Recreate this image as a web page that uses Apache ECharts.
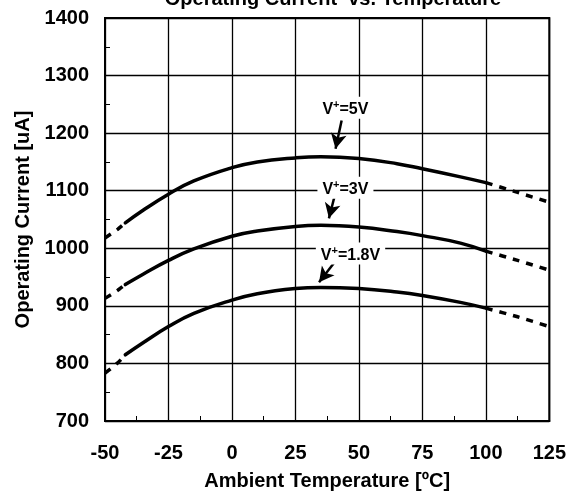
<!DOCTYPE html>
<html>
<head>
<meta charset="utf-8">
<script src="https://cdn.jsdelivr.net/npm/echarts@6/dist/echarts.min.js"></script>
<style>
  html, body { margin: 0; padding: 0; background: #fff; }
  #chart { width: 569px; height: 496px; }
</style>
</head>
<body>
<div id="chart"></div>
<script>
// Ambient temperature (°C) sample points for each curve segment
const tLow = [-50, -45, -42];
const tSolid = [-42, -35, -25, -15, 0, 10, 25, 35, 50, 65, 75, 90, 100];
const tHigh = [100, 112.5, 125];

// Operating current (uA) at V+ = 5V
const i5Low = [1018, 1033, 1044];
const i5Solid = [1044, 1066, 1094, 1117, 1140, 1150, 1157, 1159, 1156, 1147, 1138, 1124, 1114];
const i5High = [1114, 1097, 1080];

// Operating current (uA) at V+ = 3V
const i3Low = [913, 927, 937];
const i3Solid = [937, 955, 979, 999, 1021, 1030, 1038, 1040, 1037, 1029, 1022, 1009, 995];
const i3High = [995, 979, 962];

// Operating current (uA) at V+ = 1.8V
const i18Low = [783, 801, 815];
const i18Solid = [815, 836, 864, 887, 910, 921, 930, 932, 930, 924, 918, 906, 896];
const i18High = [896, 881, 864];

// Curve labels: [text suffix, label position, arrow start, arrow end]
const labelNames = ['=5V', '=3V', '=1.8V'];
const labelPos = [[44.7, 1244], [44.7, 1105], [46.7, 991]];
const arrowFrom = [[43.2, 1222], [40.8, 1097], [40.8, 978]];
const arrowTo = [[40.8, 1173], [38.2, 1052], [34.3, 941]];

const FONT = 'Liberation Sans, Arial, Helvetica, sans-serif';

function pairs(xs, ys) { return xs.map((x, k) => [x, ys[k]]); }

function solid(name, ys) {
  return {
    name, type: 'line', data: pairs(tSolid, ys), smooth: 0.45,
    showSymbol: false, symbol: 'none', z: 5,
    lineStyle: { color: '#000', width: 3.5, cap: 'round' }
  };
}
function dashed(name, xs, ys) {
  return {
    name, type: 'line', data: pairs(xs, ys), smooth: 0.2,
    showSymbol: false, symbol: 'none', z: 5,
    lineStyle: { color: '#000', width: 3.5, type: [7, 7] }
  };
}

const annotation = {
  type: 'line', data: [], silent: true, z: 6,
  markLine: {
    silent: true, symbol: ['none', 'arrow'], symbolSize: [12, 15],
    lineStyle: { color: '#000', width: 2.5, type: 'solid' },
    label: { show: false },
    data: arrowFrom.map((p, k) => [{ coord: p }, { coord: arrowTo[k] }])
  },
  markPoint: {
    silent: true, symbol: 'circle', symbolSize: 0,
    label: {
      show: true, position: 'inside', backgroundColor: '#fff', padding: [3, 5, 1, 5],
      rich: {
        a: { fontFamily: FONT, fontWeight: 'bold', fontSize: 16, color: '#000', verticalAlign: 'bottom' },
        s: { fontFamily: FONT, fontWeight: 'bold', fontSize: 11, color: '#000', padding: [0, 0, 7, 0], verticalAlign: 'bottom' }
      }
    },
    data: labelPos.map((p, k) => ({
      coord: p,
      label: { formatter: '{a|V}{s|+}{a|' + labelNames[k] + '}' }
    }))
  }
};

const tickLabel = { fontFamily: FONT, fontWeight: 'bold', fontSize: 20, color: '#000', formatter: v => String(v) };

const chart = echarts.init(document.getElementById('chart'));
chart.setOption({
  animation: false,
  backgroundColor: '#fff',
  title: {
    text: 'Operating Current  vs. Temperature',
    left: 328, top: -16, textAlign: 'center',
    textStyle: { fontFamily: FONT, fontWeight: 'bold', fontSize: 20, color: '#000' }
  },
  grid: { left: 105, right: 18, top: 18, bottom: 73, show: true, borderColor: '#000', borderWidth: 2 },
  xAxis: {
    type: 'value', min: -50, max: 125, interval: 25,
    name: 'Ambient Temperature [ºC]', nameLocation: 'middle', nameGap: 50,
    nameTextStyle: { fontFamily: FONT, fontWeight: 'bold', fontSize: 20, color: '#000' },
    axisLine: { show: true, onZero: false, lineStyle: { color: '#000', width: 2 } },
    axisTick: { show: false, inside: true },
    minorTick: { show: true, splitNumber: 2, length: 5, lineStyle: { color: '#000', width: 1 } },
    axisLabel: Object.assign({ margin: 22 }, tickLabel),
    splitLine: { show: true, lineStyle: { color: '#000', width: 1.3 } }
  },
  yAxis: {
    type: 'value', min: 700, max: 1400, interval: 100,
    name: 'Operating Current [uA]', nameLocation: 'middle', nameGap: 72,
    nameTextStyle: { fontFamily: FONT, fontWeight: 'bold', fontSize: 20, color: '#000' },
    axisLine: { show: true, onZero: false, lineStyle: { color: '#000', width: 2 } },
    axisTick: { show: false, inside: true },
    minorTick: { show: true, splitNumber: 2, length: 5, lineStyle: { color: '#000', width: 1 } },
    axisLabel: Object.assign({ margin: 16 }, tickLabel),
    splitLine: { show: true, lineStyle: { color: '#000', width: 1.3 } }
  },
  series: [
    solid('5V', i5Solid), dashed('5V low', tLow, i5Low), dashed('5V high', tHigh, i5High),
    solid('3V', i3Solid), dashed('3V low', tLow, i3Low), dashed('3V high', tHigh, i3High),
    solid('1.8V', i18Solid), dashed('1.8V low', tLow, i18Low), dashed('1.8V high', tHigh, i18High),
    annotation
  ]
});
</script>
</body>
</html>
